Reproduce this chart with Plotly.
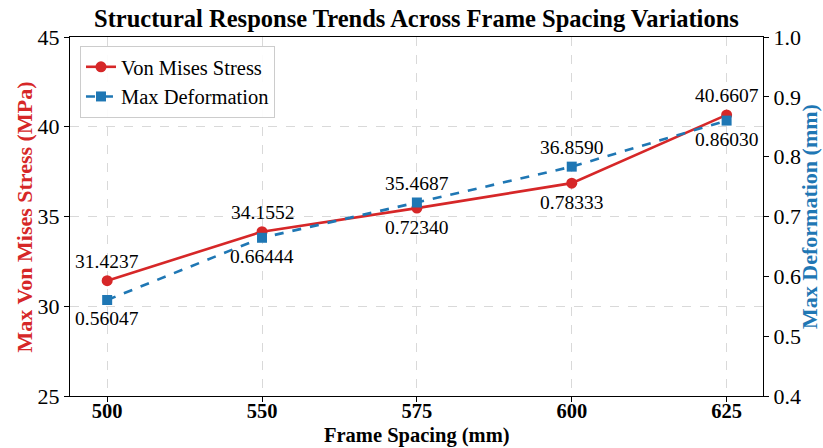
import plotly.graph_objects as go

frame_spacing = ["500", "550", "575", "600", "625"]
stress = [31.4237, 34.1552, 35.4687, 36.8590, 40.6607]
deformation = [0.56047, 0.66444, 0.72340, 0.78333, 0.86030]
stress_labels = ["31.4237", "34.1552", "35.4687", "36.8590", "40.6607"]
deform_labels = ["0.56047", "0.66444", "0.72340", "0.78333", "0.86030"]

left_range = [25, 45]
right_range = [0.4, 1.0]

RED = "#d62728"
BLUE = "#1f77b4"
FONT = "Liberation Serif"

fig = go.Figure()
fig.add_trace(go.Scatter(
    x=frame_spacing, y=stress, name="Von Mises Stress", mode="lines+markers",
    line=dict(color=RED, width=2.6), marker=dict(symbol="circle", size=11, color=RED),
    yaxis="y"))
fig.add_trace(go.Scatter(
    x=frame_spacing, y=deformation, name="Max Deformation", mode="lines+markers",
    line=dict(color=BLUE, width=2.6, dash="dash"), marker=dict(symbol="square", size=10, color=BLUE),
    yaxis="y2"))

def to_left(d):
    return left_range[0] + (d - right_range[0]) / (right_range[1] - right_range[0]) * (left_range[1] - left_range[0])

ann = []
for i, (s, d, sl, dl) in enumerate(zip(stress, deformation, stress_labels, deform_labels)):
    dl_left = to_left(d)
    top = max(s, dl_left)
    bot = min(s, dl_left)
    ann.append(dict(x=i, y=top, xref="x", yref="y", text=sl, showarrow=False,
                    yshift=19, yanchor="middle", font=dict(family=FONT, size=19.5, color="black")))
    ann.append(dict(x=i, y=bot, xref="x", yref="y", text=dl, showarrow=False,
                    yshift=-19, yanchor="middle", font=dict(family=FONT, size=19.5, color="black")))

# axis titles as annotations
ann.append(dict(x=-0.065, y=0.5, xref="paper", yref="paper", text="<b>Max Von Mises Stress (MPa)</b>",
                textangle=-90, showarrow=False, xanchor="center", yanchor="middle",
                font=dict(family=FONT, size=22, color=RED)))
ann.append(dict(x=1.067, y=0.5, xref="paper", yref="paper", text="<b>Max Deformation (mm)</b>",
                textangle=-90, showarrow=False, xanchor="center", yanchor="middle",
                font=dict(family=FONT, size=22, color=BLUE)))
ann.append(dict(x=0.5, y=-0.111, xref="paper", yref="paper", text="<b>Frame Spacing (mm)</b>",
                showarrow=False, xanchor="center", yanchor="middle", borderpad=0,
                font=dict(family=FONT, size=20.5, color="black")))

fig.update_layout(
    width=823, height=448,
    margin=dict(l=70, r=60, t=37, b=52, autoexpand=False),
    paper_bgcolor="white", plot_bgcolor="white",
    font=dict(family=FONT, color="black"),
    title=dict(text="<b>Structural Response Trends Across Frame Spacing Variations</b>",
               x=0.506, xanchor="center", y=0.958, yanchor="middle",
               font=dict(family=FONT, size=24.5, color="black")),
    showlegend=True,
    legend=dict(x=0.0144, y=0.975, xanchor="left", yanchor="top",
                bgcolor="rgba(255,255,255,0.9)", bordercolor="#cccccc", borderwidth=1,
                font=dict(family=FONT, size=20.5, color="black"), tracegroupgap=2),
    annotations=ann,
    xaxis=dict(type="category", range=[-0.24, 4.235], automargin=False,
               tickfont=dict(family=FONT, size=20.5, color="black"),
               tickprefix="<b>", ticksuffix="</b>", ticklabelstandoff=-9,
               showline=True, linecolor="black", linewidth=1.3, mirror=True,
               ticks="outside", ticklen=5, tickcolor="black",
               showgrid=True, gridcolor="#d9d9d9", griddash="dash", gridwidth=1, zeroline=False),
    yaxis=dict(range=left_range, tickvals=[25, 30, 35, 40, 45], automargin=False,
               tickfont=dict(family=FONT, size=22, color="black"),
               showline=True, linecolor="black", linewidth=1.3,
               ticks="outside", ticklen=5, tickcolor="black",
               showgrid=True, gridcolor="#d9d9d9", griddash="dash", gridwidth=1, zeroline=False),
    yaxis2=dict(range=right_range, tickvals=[0.4, 0.5, 0.6, 0.7, 0.8, 0.9, 1.0], tickformat=".1f",
                overlaying="y", side="right", automargin=False,
                tickfont=dict(family=FONT, size=22, color="black"),
                showline=True, linecolor="black", linewidth=1.3,
                ticks="outside", ticklen=5, tickcolor="black",
                showgrid=False, zeroline=False),
)

fig.write_html("out.html", config={"displayModeBar": False},
               post_script="document.body.style.margin='0px';document.body.style.overflow='hidden';")
